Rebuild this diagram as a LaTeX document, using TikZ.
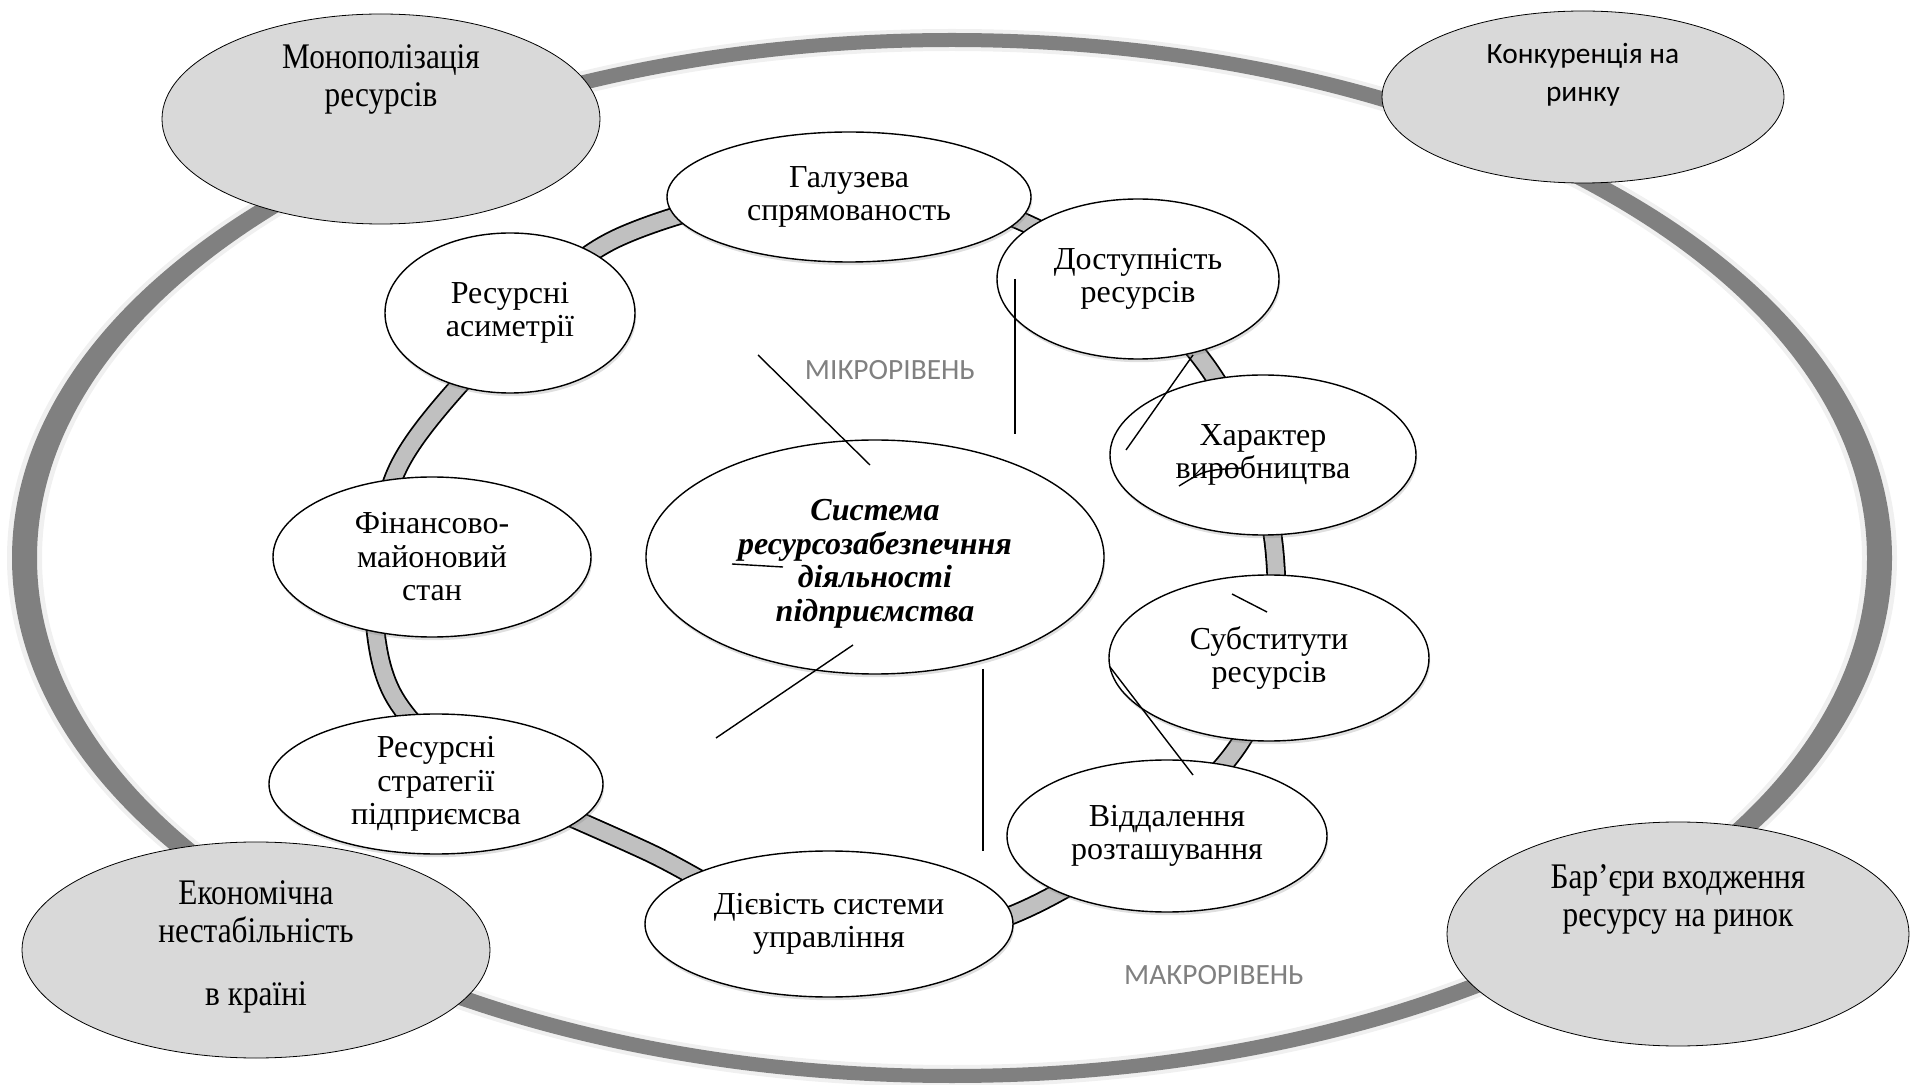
\documentclass[tikz,border=0pt]{standalone}
\usepackage{fontspec}
\setmainfont{Liberation Serif}
\newfontfamily\calibri{Carlito}
\newfontfamily\narrowserif{Liberation Serif}[FakeStretch=0.87]
\usetikzlibrary{shapes, positioning, shadows, calc}
\definecolor{RingGray}{RGB}{128,128,128}
\definecolor{RingGlow}{RGB}{240,240,240}
\definecolor{BandGray}{RGB}{192,192,192}
\definecolor{MacroFill}{RGB}{217,217,217}
\definecolor{LevelGray}{RGB}{128,128,128}

\begin{document}
\begin{tikzpicture}[
    x=0.5pt, y=-0.5pt,
    factor/.style={ellipse, draw, line width=0.7pt, fill=white, inner sep=0pt, align=center,
        font=\fontsize{16}{16.75}\selectfont,
        drop shadow={opacity=0.25, shadow xshift=0.6pt, shadow yshift=-1.6pt}},
    hub/.style={factor},
    hubtext/.style={align=center, inner sep=0pt, font=\fontsize{16}{16.75}\selectfont\bfseries\itshape},
    macro/.style={ellipse, draw, line width=0.4pt, fill=MacroFill, inner sep=0pt},
    macrotext/.style={align=center, inner sep=0pt, font=\narrowserif\fontsize{18}{19}\selectfont},
    band/.style={line width=0.9pt, double=BandGray, double distance=8pt},
    levellabel/.style={text=LevelGray, inner sep=0pt, font=\calibri\fontsize{14.7}{18}\selectfont},
    scratch/.style={line width=0.7pt}
]
\useasboundingbox (0,0) rectangle (1919,1085);

% outer ring (macro level)
\fill[RingGlow, even odd rule] (952,558) ellipse [x radius=945, y radius=529]
    (952,558) ellipse [x radius=910, y radius=507];
\fill[RingGray, even odd rule] (952,558) ellipse [x radius=940, y radius=525]
    (952,558) ellipse [x radius=915, y radius=511];

% inner ring (micro level)
\draw[band] plot[smooth cycle, tension=0.6] coordinates {(844,186) (1038,229) (1206,365)
    (1275,557) (1236,749) (1028,908) (832,936) (646,851) (478,772) (398,703) (374,615)
    (382,520) (414,441) (514,328) (624,235)};

% factors on the inner ring
\node[factor, minimum width=182pt, minimum height=65pt] (sector) at (849,197) {Галузева\\спрямованость};
\node[factor, minimum width=141pt, minimum height=80pt] (access) at (1138,279) {Доступність\\ресурсів};
\node[factor, minimum width=153pt, minimum height=80pt] (production) at (1263,455) {Характер\\виробництва};
\node[factor, minimum width=160pt, minimum height=83pt] (substitutes) at (1269,658) {Субститути\\ресурсів};
\node[factor, minimum width=160pt, minimum height=76pt] (distance) at (1167,836) {Віддалення\\розташування};
\node[factor, minimum width=184pt, minimum height=73pt] (management) at (829,924) {Дієвість системи\\управління};
\node[factor, minimum width=167pt, minimum height=70pt] (strategy) at (436,784) {Ресурсні\\стратегії\\підприємсва};
\node[factor, minimum width=159pt, minimum height=80pt] (finance) at (432,557) {Фінансово-\\майоновий\\стан};
\node[factor, minimum width=125pt, minimum height=80pt] (asymmetry) at (510,313) {Ресурсні\\асиметрії};
\node[hub, minimum width=229pt, minimum height=117pt] (system) at (875,557) {};
\node[hubtext] (systemtext) at ([yshift=-3.5pt]system.center) {Система\\ресурсозабезпечння\\діяльності\\підприємства};

% macro level factors
\node[macro, minimum width=219pt, minimum height=105pt] (monopoly) at (381,119) {};
\node[macrotext] (monopolytext) at ([yshift=20pt]monopoly.center) {Монополізація\\ресурсів};
\node[macro, minimum width=201pt, minimum height=86pt] (competition) at (1583,97) {};
\node[macrotext, font=\calibri\fontsize{14.7}{19}\selectfont] (competitiontext) at ([yshift=11pt]competition.center) {Конкуренція на\\ринку};
\node[macro, minimum width=234pt, minimum height=108pt] (economy) at (256,950) {};
\node[macrotext] (economytext) at ([yshift=1.5pt]economy.center) {Економічна\\нестабільність\\[12.5pt]в країні};
\node[macro, minimum width=231pt, minimum height=112pt] (barriers) at (1678,934) {};
\node[macrotext] (barrierstext) at ([yshift=17.5pt]barriers.center) {Бар’єри входження\\ресурсу на ринок};

\node[levellabel] (microlbl) at (890,370) {МІКРОРІВЕНЬ};
\node[levellabel] (macrolbl) at (1214,975) {МАКРОРІВЕНЬ};

% loose strokes
\coordinate (s1a) at (758,355);  \coordinate (s1b) at (870,465);
\coordinate (s2a) at (1015,279); \coordinate (s2b) at (1015,434);
\coordinate (s3a) at (1193,355); \coordinate (s3b) at (1126,450);
\coordinate (s4a) at (1179,486); \coordinate (s4b) at (1242,468);
\coordinate (s5a) at (1232,594); \coordinate (s5b) at (1267,612);
\coordinate (s6a) at (1110,667); \coordinate (s6b) at (1193,775);
\coordinate (s7a) at (983,669);  \coordinate (s7b) at (983,851);
\coordinate (s8a) at (853,645);  \coordinate (s8b) at (716,738);
\coordinate (s9a) at (732,564);  \coordinate (s9b) at (783,567);
\draw[scratch] (s1a) -- (s1b);
\draw[scratch] (s2a) -- (s2b);
\draw[scratch] (s3a) -- (s3b);
\draw[scratch] (s4a) .. controls (1205,470) .. (s4b);
\draw[scratch] (s5a) -- (s5b);
\draw[scratch] (s6a) -- (s6b);
\draw[scratch] (s7a) -- (s7b);
\draw[scratch] (s8a) -- (s8b);
\draw[scratch] (s9a) -- (s9b);
\end{tikzpicture}
\end{document}
